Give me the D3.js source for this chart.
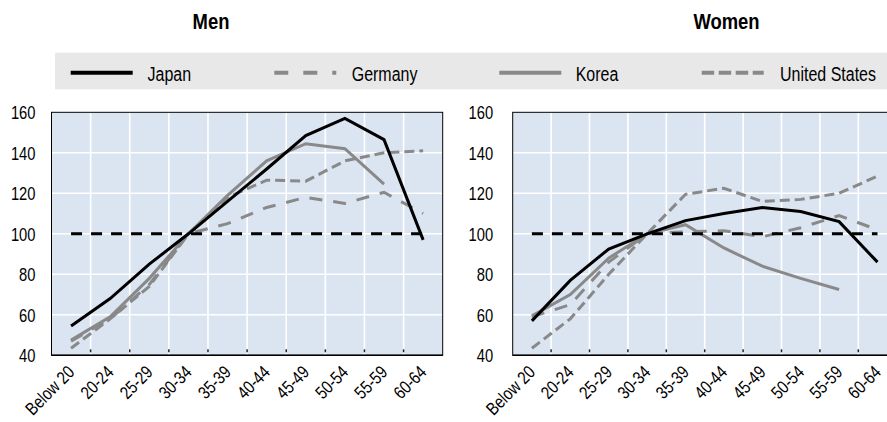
<!DOCTYPE html>
<html>
<head>
<meta charset="utf-8">
<script src="https://cdn.jsdelivr.net/npm/d3@7"></script>
<style>
  html, body { margin: 0; padding: 0; background: #fff; }
  svg { display: block; }
  text { font-family: "Liberation Sans", Arial, sans-serif; }
</style>
</head>
<body>
<svg id="chart" width="887" height="422"></svg>
<script>
// ---- data ----
const categories = ["Below 20", "20-24", "25-29", "30-34", "35-39", "40-44", "45-49", "50-54", "55-59", "60-64"];
const yTicks = [40, 60, 80, 100, 120, 140, 160];
const seriesNames = ["Japan", "Germany", "Korea", "United States"];
const panelTitles = ["Men", "Women"];

const japanMen    = [54.5, 68, 85, 100, 116, 132, 148.5, 157, 146.5, 97];
const germanyMen  = [47, 58, 75, 100, 105, 113, 118, 115, 120.5, 110];
const koreaMen    = [47.5, 59, 78, 100, 119, 136, 144.5, 142, 124.5, null];
const usMen       = [43.5, 58, 74, 100, 118, 126.5, 126, 136, 140, 141];

const japanWomen   = [57, 77, 92.5, 100, 106.5, 110, 113, 111, 106, 86];
const germanyWomen = [59, 65, 86, 100, 101, 101.5, 98.5, 103, 109, 102];
const koreaWomen   = [59.5, 70, 88, 100, 104.5, 93, 84, 78, 72.5, null];
const usWomen      = [43.5, 58, 80, 100, 119.5, 122.5, 116, 117, 120, 128.5];

const reference = [100, 100, 100, 100, 100, 100, 100, 100, 100, 100];

// ---- styles ----
const styles = {
  "Japan":         { color: "#000000", dash: null,    width: 3 },
  "Germany":       { color: "#898989", dash: "13,11", width: 3 },
  "Korea":         { color: "#898989", dash: null,    width: 3 },
  "United States": { color: "#898989", dash: "10,5",  width: 3 }
};
const NARROW = 0.82; // emulate a condensed face

const svg = d3.select("#chart");
const plotTop = 112.3, plotBottom = 355.3;
const y = d3.scaleLinear().domain([40, 160]).range([plotBottom, plotTop]);

const panels = [
  { title: panelTitles[0], x0: 51.5, x1: 442.7, titleX: 211, labelPad: 16,
    data: { "Japan": japanMen, "Germany": germanyMen, "Korea": koreaMen, "United States": usMen } },
  { title: panelTitles[1], x0: 512.7, x1: 896.7, titleX: 726.5, labelPad: 19.5,
    data: { "Japan": japanWomen, "Germany": germanyWomen, "Korea": koreaWomen, "United States": usWomen } }
];

panels.forEach(p => {
  const x = d3.scaleBand().domain(categories).range([p.x0, p.x1]).padding(0);
  const cx = c => x(c) + x.bandwidth() / 2;
  const g = svg.append("g");

  g.append("rect").attr("x", p.x0).attr("y", plotTop)
    .attr("width", p.x1 - p.x0).attr("height", plotBottom - plotTop)
    .attr("fill", "#dbe5f1");

  g.selectAll(".hg").data(yTicks.slice(1, -1)).enter().append("line")
    .attr("x1", p.x0).attr("x2", p.x1)
    .attr("y1", d => y(d)).attr("y2", d => y(d))
    .attr("stroke", "#ffffff").attr("stroke-width", 1.6);

  g.selectAll(".vg").data(categories.slice(1)).enter().append("line")
    .attr("x1", d => x(d)).attr("x2", d => x(d))
    .attr("y1", plotTop).attr("y2", plotBottom)
    .attr("stroke", "#ffffff").attr("stroke-width", 1.6);

  g.selectAll(".tk").data(categories.slice(1)).enter().append("line")
    .attr("x1", d => x(d)).attr("x2", d => x(d))
    .attr("y1", plotBottom - 6).attr("y2", plotBottom - 3)
    .attr("stroke", "#222").attr("stroke-width", 1.5);

  const line = d3.line()
    .defined(d => d.v != null)
    .x(d => cx(d.c))
    .y(d => y(d.v));

  const drawSeries = name => {
    const st = styles[name];
    const vals = p.data[name];
    g.append("path")
      .datum(categories.map((c, i) => ({ c, v: vals[i] })))
      .attr("d", line)
      .attr("fill", "none")
      .attr("stroke", st.color)
      .attr("stroke-width", st.width)
      .attr("stroke-dasharray", st.dash)
      .attr("stroke-linejoin", "miter");
  };

  ["United States", "Germany", "Korea"].forEach(drawSeries);

  g.append("path")
    .datum(categories.map((c, i) => ({ c, v: reference[i] })))
    .attr("d", line)
    .attr("fill", "none")
    .attr("stroke", "#000")
    .attr("stroke-width", 3)
    .attr("stroke-dasharray", "11,9");

  drawSeries("Japan");

  g.append("rect").attr("x", p.x0).attr("y", plotTop)
    .attr("width", p.x1 - p.x0).attr("height", plotBottom - plotTop)
    .attr("fill", "none").attr("stroke", "#000").attr("stroke-width", 1);
  g.append("line").attr("x1", p.x0).attr("x2", p.x1)
    .attr("y1", plotBottom).attr("y2", plotBottom)
    .attr("stroke", "#000").attr("stroke-width", 1.5);

  // y axis
  const ya = g.append("g").attr("transform", `translate(${p.x0},0)`)
    .call(d3.axisLeft(y).tickValues(yTicks).tickSize(0));
  ya.select(".domain").remove();
  ya.selectAll("text")
    .attr("x", 0).attr("dy", "0.36em")
    .attr("transform", `translate(${-p.labelPad},0) scale(${NARROW},1)`)
    .attr("font-size", 18).attr("fill", "#000");

  // x axis
  const xa = g.append("g").attr("transform", `translate(0,${plotBottom})`)
    .call(d3.axisBottom(x).tickSize(0));
  xa.select(".domain").remove();
  xa.selectAll(".tick").attr("transform", d => `translate(${cx(d) + 4.5},${18})`);
  xa.selectAll("text")
    .attr("x", 0).attr("y", 0).attr("dy", 0)
    .attr("text-anchor", "end")
    .attr("transform", `rotate(-45) scale(${NARROW},1)`)
    .attr("font-size", 18).attr("fill", "#000");

  svg.append("text")
    .attr("transform", `translate(${p.titleX},29) scale(${NARROW},1)`)
    .attr("text-anchor", "middle")
    .attr("font-size", 22.5).attr("font-weight", "bold").attr("fill", "#000")
    .text(p.title);
});

// ---- legend ----
const lg = svg.append("g");
lg.append("rect").attr("x", 55).attr("y", 52.7).attr("width", 832).attr("height", 36.6)
  .attr("fill", "#e8e8e8");
const legendPos = [
  { x: 70.7, tx: 147.5 },
  { x: 274.3, tx: 351.7 },
  { x: 499.3, tx: 575.7 },
  { x: 701.7, tx: 780 }
];
seriesNames.forEach((name, i) => {
  const st = styles[name];
  const pos = legendPos[i];
  lg.append("line")
    .attr("x1", pos.x).attr("x2", pos.x + 62)
    .attr("y1", 72.7).attr("y2", 72.7)
    .attr("stroke", st.color).attr("stroke-width", 4)
    .attr("stroke-dasharray", name === "Germany" ? "14,15" : (name === "United States" ? "12.5,4.5" : null));
  lg.append("text")
    .attr("transform", `translate(${pos.tx},80.5) scale(${NARROW},1)`)
    .attr("font-size", 19.5).attr("fill", "#000")
    .text(name);
});
</script>
</body>
</html>
